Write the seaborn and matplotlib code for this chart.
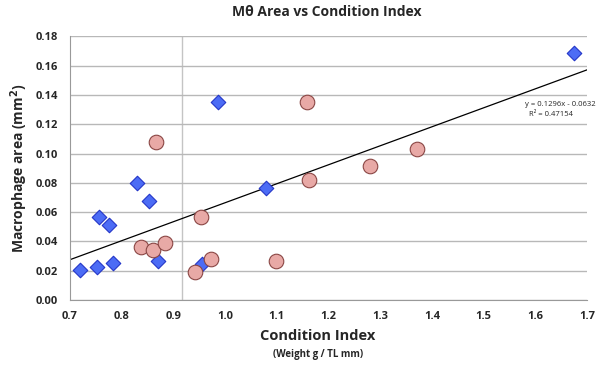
import matplotlib.pyplot as plt
import numpy as np
import pandas as pd
import seaborn as sns

# group 1: blue diamonds
diamond_x = [0.719, 0.752, 0.757, 0.776, 0.783, 0.830, 0.853, 0.870, 0.955, 0.987, 1.080, 1.675]
diamond_y = [0.0205, 0.0227, 0.0569, 0.0512, 0.0255, 0.0800, 0.0678, 0.0266, 0.0246, 0.1354, 0.0767, 0.1685]

# group 2: pink circles
circle_x = [0.837, 0.860, 0.866, 0.884, 0.942, 0.954, 0.972, 1.098, 1.158, 1.162, 1.280, 1.371]
circle_y = [0.0364, 0.0341, 0.1076, 0.0391, 0.0193, 0.0569, 0.0280, 0.0266, 0.1354, 0.0819, 0.0917, 0.1033]

# trend line from the chart's equation
slope = 0.1296
intercept = -0.0632
r_squared = 0.47154
ref_x = 0.916

x_ticks = [0.7, 0.8, 0.9, 1.0, 1.1, 1.2, 1.3, 1.4, 1.5, 1.6, 1.7]
y_ticks = [0.00, 0.02, 0.04, 0.06, 0.08, 0.10, 0.12, 0.14, 0.16, 0.18]

df = pd.DataFrame({
    "x": diamond_x + circle_x,
    "y": diamond_y + circle_y,
    "group": ["diamond"] * len(diamond_x) + ["circle"] * len(circle_x),
})

sns.set_style("white")
plt.rcParams["font.family"] = ["Open Sans", "DejaVu Sans"]
plt.rcParams["font.weight"] = "bold"
plt.rcParams["mathtext.default"] = "bf"

fig = plt.figure(figsize=(6, 3.67), dpi=100)
ax = fig.add_axes([0.1167, 0.1826, 0.8617, 0.7184])

ax.set_axisbelow(True)
ax.grid(axis="y", color="#b8b8b8", linewidth=1.0)
ax.axvline(ref_x, color="#c4c4c4", linewidth=1.0, zorder=0)

sns.scatterplot(data=df[df.group == "diamond"], x="x", y="y", marker="D", s=55,
                color="#4c6cf5", edgecolor="#2436c8", linewidth=0.8, ax=ax, zorder=3)
sns.scatterplot(data=df[df.group == "circle"], x="x", y="y", marker="o", s=110,
                color="#e8a9a6", edgecolor="#8a4644", linewidth=0.8, ax=ax, zorder=3)

line_x = np.array([x_ticks[0], x_ticks[-1]])
sns.lineplot(x=line_x, y=slope * line_x + intercept, color="black", linewidth=0.9, ax=ax, zorder=2)

ax.text(1.716, 0.1335, f"y = {slope}x - {abs(intercept)}",
        ha="right", va="center", fontsize=5.5, fontweight="normal")
ax.text(1.672, 0.1265, f"R² = {r_squared}",
        ha="right", va="center", fontsize=5.5, fontweight="normal")

ax.set_xlim(x_ticks[0], x_ticks[-1])
ax.set_ylim(y_ticks[0], y_ticks[-1])
ax.set_xticks(x_ticks)
ax.set_yticks(y_ticks)
ax.set_xticklabels([f"{v:.1f}" for v in x_ticks], fontsize=8, fontweight="bold")
ax.set_yticklabels([f"{v:.2f}" for v in y_ticks], fontsize=8, fontweight="bold")
ax.tick_params(axis="both", length=3, width=0.8, color="#999999", direction="out", pad=3)
ax.tick_params(axis="y", pad=6)
ax.tick_params(axis="x", pad=5)

for side in ["top", "right"]:
    ax.spines[side].set_visible(False)
for side in ["left", "bottom"]:
    ax.spines[side].set_color("#999999")
    ax.spines[side].set_linewidth(0.8)

ax.set_xlabel("")
ax.set_ylabel("Macrophage area (mm$^2$)", fontsize=10, fontweight="bold", labelpad=4)
fig.text(0.53, 0.085, "Condition Index", ha="center", va="center", fontsize=10.5, fontweight="bold")
fig.text(0.53, 0.035, "(Weight g / TL mm)", ha="center", va="center", fontsize=7, fontweight="bold")
fig.text(0.545, 0.967, "Mθ Area vs Condition Index", ha="center", va="center", fontsize=10, fontweight="bold")

fig.savefig("out.png", dpi=100)
